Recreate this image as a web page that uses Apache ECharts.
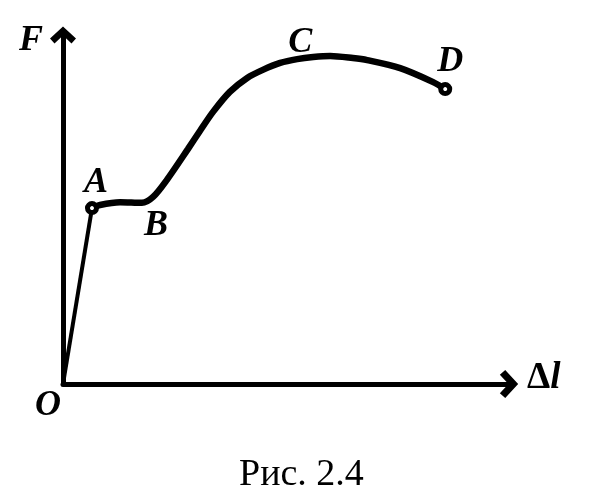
<!DOCTYPE html>
<html>
<head>
<meta charset="utf-8">
<script src="https://cdn.jsdelivr.net/npm/echarts@6/dist/echarts.min.js"></script>
<style>html,body{margin:0;padding:0;background:#fff;}#c{width:614px;height:501px;}</style>
</head>
<body>
<div id="c"></div>
<script>
// Elastic part O -> A
const elasticX = [0, 6.5];
const elasticY = [0, 50.4];
// Curve A -> B -> C -> D
const curveX = [6.5, 8.3, 12.8, 17.7, 20.2, 23.3, 28.0, 30.7, 33.6, 37.4, 41.3, 44.8, 48.7, 52.5, 56.1, 59.9, 65.0, 68.2, 75.6, 83.0, 85.7];
const curveY = [50.4, 51.3, 52.1, 51.9, 53.6, 58.5, 67.3, 72.5, 77.9, 83.7, 87.7, 90.0, 92.0, 93.1, 93.7, 94.0, 93.4, 92.8, 90.5, 86.5, 84.5];
// Named points
const pointNames = ['O', 'A', 'B', 'C', 'D'];
const pointX = [0, 6.5, 17.7, 52.5, 85.7];
const pointY = [0, 50.4, 51.9, 93.1, 84.5];
// Marked (circled) points
const circledNames = ['A', 'D'];
const caption = 'Рис. 2.4';
const yName = 'F';

const labelOffsets = { O: [-15, 22], A: [4, -25], B: [14, 23], C: [3, -16], D: [5, -27] };
const serif = '"Liberation Serif", "DejaVu Serif", serif';
const arrowPath = 'path://M13,0 L26,12 L21.5,17 L13,9 L4.5,17 L0,12 Z';

const chart = echarts.init(document.getElementById('c'), null, { renderer: 'canvas' });

const labelData = pointNames.map((n, i) => ({
  name: n,
  value: [pointX[i], pointY[i]],
  label: { offset: labelOffsets[n] }
}));
const circleData = circledNames.map(n => {
  const i = pointNames.indexOf(n);
  return { name: n, value: [pointX[i], pointY[i]] };
});

chart.setOption({
  backgroundColor: '#ffffff',
  animation: false,
  title: {
    text: caption,
    left: 234,
    top: 451,
    textStyle: { fontFamily: serif, fontSize: 38, fontWeight: 'normal', color: '#000' }
  },
  grid: { left: 63, right: 105, top: 35, bottom: 117, containLabel: false },
  xAxis: {
    type: 'value', min: 0, max: 100,
    name: '{d|Δ}{l|l}',
    nameLocation: 'end',
    nameGap: 18,
    nameTextStyle: {
      align: 'left', verticalAlign: 'middle', padding: [0, 0, 12, 0],
      rich: {
        d: { fontFamily: serif, fontSize: 37, fontWeight: 'bold', color: '#000' },
        l: { fontFamily: serif, fontSize: 37, fontStyle: 'italic', fontWeight: 'bold', color: '#000' }
      }
    },
    axisLine: { show: true, onZero: false, symbol: ['none', arrowPath], symbolSize: [28, 20], lineStyle: { color: '#000', width: 5 } },
    axisTick: { show: false }, axisLabel: { show: false }, splitLine: { show: false }
  },
  yAxis: {
    type: 'value', min: 0, max: 100,
    name: yName,
    nameLocation: 'end',
    nameGap: -6,
    nameTextStyle: { fontFamily: serif, fontSize: 36, fontStyle: 'italic', fontWeight: 'bold', color: '#000', align: 'right', verticalAlign: 'middle', padding: [0, 20, 0, 0] },
    axisLine: { show: true, onZero: false, symbol: ['none', arrowPath], symbolSize: [26, 18], lineStyle: { color: '#000', width: 5 } },
    axisTick: { show: false }, axisLabel: { show: false }, splitLine: { show: false }
  },
  series: [
    {
      type: 'line', name: 'elastic',
      data: elasticX.map((x, i) => [x, elasticY[i]]),
      symbol: 'none', lineStyle: { color: '#000', width: 4 }, z: 3
    },
    {
      type: 'line', name: 'curve',
      data: curveX.map((x, i) => [x, curveY[i]]),
      smooth: 0.3, symbol: 'none', lineStyle: { color: '#000', width: 6.5 }, z: 3
    },
    {
      type: 'scatter', name: 'circles',
      data: circleData,
      symbol: 'circle', symbolSize: 9,
      itemStyle: { color: '#fff', borderColor: '#000', borderWidth: 5, opacity: 1 },
      z: 5
    },
    {
      type: 'scatter', name: 'labels',
      data: labelData,
      symbolSize: 0,
      itemStyle: { opacity: 1 },
      label: {
        show: true, position: 'inside', formatter: '{b}',
        fontFamily: serif, fontSize: 36, fontStyle: 'italic', fontWeight: 'bold', color: '#000'
      },
      z: 6
    }
  ]
});
</script>
</body>
</html>
